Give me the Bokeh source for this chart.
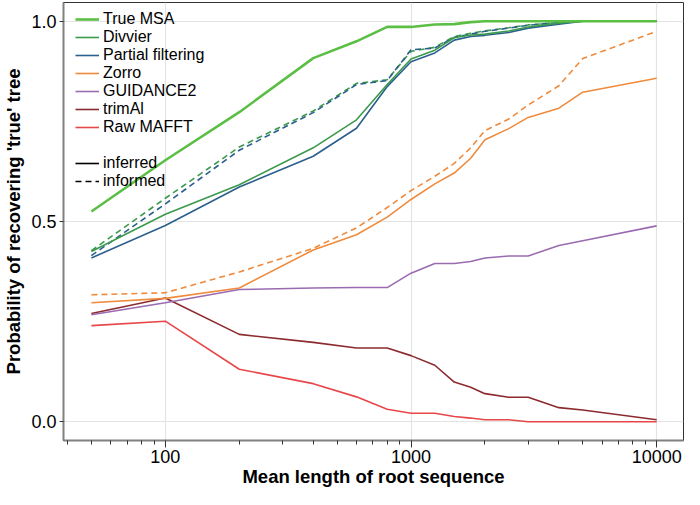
from bokeh.plotting import figure
from bokeh.models import Range1d, FixedTicker, PrintfTickFormatter, Legend, LegendItem
from bokeh.embed import file_html
from bokeh.resources import INLINE

# ---- data ----
lengths = [50, 100, 200, 400, 600, 800, 1000, 1250, 1500, 1750, 2000, 2500, 3000, 4000, 5000, 10000]

true_msa = [0.525, 0.653, 0.773, 0.908, 0.950, 0.986, 0.986, 0.992, 0.993, 0.998, 1.0, 1.0, 1.0, 1.0, 1.0, 1.0]
divvier_inferred = [0.425, 0.518, 0.592, 0.684, 0.754, 0.842, 0.906, 0.928, 0.959, 0.966, 0.968, 0.976, 0.986, 0.995, 1.0, 1.0]
divvier_informed = [0.427, 0.558, 0.686, 0.776, 0.845, 0.854, 0.925, 0.935, 0.962, 0.970, 0.976, 0.984, 0.991, 0.997, 1.0, 1.0]
partial_inferred = [0.409, 0.490, 0.586, 0.663, 0.733, 0.837, 0.899, 0.921, 0.953, 0.962, 0.965, 0.972, 0.983, 0.993, 1.0, 1.0]
partial_informed = [0.415, 0.544, 0.678, 0.772, 0.842, 0.852, 0.929, 0.933, 0.960, 0.968, 0.975, 0.983, 0.990, 0.997, 1.0, 1.0]
zorro_inferred = [0.297, 0.308, 0.334, 0.429, 0.467, 0.511, 0.555, 0.594, 0.621, 0.658, 0.704, 0.732, 0.760, 0.783, 0.823, 0.858]
zorro_informed = [0.317, 0.322, 0.374, 0.433, 0.484, 0.535, 0.577, 0.613, 0.645, 0.684, 0.727, 0.756, 0.791, 0.839, 0.907, 0.975]
guidance2 = [0.267, 0.297, 0.330, 0.334, 0.335, 0.335, 0.371, 0.395, 0.395, 0.400, 0.409, 0.414, 0.414, 0.440, 0.452, 0.489]
trimal = [0.270, 0.309, 0.218, 0.198, 0.184, 0.184, 0.165, 0.141, 0.099, 0.086, 0.070, 0.061, 0.061, 0.035, 0.029, 0.005]
raw_mafft = [0.240, 0.251, 0.131, 0.095, 0.062, 0.031, 0.021, 0.021, 0.013, 0.009, 0.005, 0.005, 0.0, 0.0, 0.0, 0.0]

method_names = ["True MSA", "Divvier", "Partial filtering", "Zorro", "GUIDANCE2", "trimAl", "Raw MAFFT"]
method_colors = ["#5cbf45", "#3b9a4c", "#2b5f8e", "#ef8b3d", "#9a6bb1", "#8c2b2f", "#e8474a"]
x_major = [100, 1000, 10000]
x_minor = [40, 50, 60, 70, 80, 90, 200, 300, 400, 500, 600, 700, 800, 900,
           2000, 3000, 4000, 5000, 6000, 7000, 8000, 9000]
y_major = [0.0, 0.5, 1.0]

FONT = "Liberation Sans"
FRAME_W = 620
FRAME_H = 438

p = figure(frame_width=FRAME_W, frame_height=FRAME_H, x_axis_type="log",
           x_range=Range1d(38.5, 12860), y_range=Range1d(-0.047, 1.047),
           output_backend="svg", toolbar_location=None,
           min_border_left=58, min_border_right=4, min_border_top=2, min_border_bottom=46)

p.background_fill_color = "white"
p.outline_line_color = "#333333"
p.outline_line_width = 1

# grid
p.xgrid.ticker = FixedTicker(ticks=x_major)
p.ygrid.ticker = FixedTicker(ticks=y_major)
for g in (p.xgrid, p.ygrid):
    g.grid_line_color = "#e3e3e3"
    g.grid_line_width = 1.2

# axes
p.xaxis.ticker = FixedTicker(ticks=x_major, minor_ticks=x_minor)
p.xaxis.formatter = PrintfTickFormatter(format="%d")
p.yaxis.ticker = FixedTicker(ticks=y_major)
p.yaxis.formatter = PrintfTickFormatter(format="%.1f")
p.xaxis.axis_label = "Mean length of root sequence"
p.yaxis.axis_label = "Probability of recovering 'true' tree"
for ax in (p.xaxis, p.yaxis):
    ax.axis_line_color = "#808080"
    ax.axis_line_width = 2
    ax.major_tick_line_color = "#333333"
    ax.minor_tick_line_color = "#333333"
    ax.major_tick_in = 0
    ax.minor_tick_in = 0
    ax.major_label_text_font = FONT
    ax.major_label_text_font_size = "18px"
    ax.major_label_text_color = "black"
    ax.axis_label_text_font = FONT
    ax.axis_label_text_font_size = "18.5px"
    ax.axis_label_text_font_style = "bold"
    ax.axis_label_text_color = "black"
p.xaxis.major_tick_out = 7
p.xaxis.minor_tick_out = 4
p.yaxis.major_tick_out = 4
p.yaxis.minor_tick_line_color = None
p.xaxis.major_label_standoff = 2
p.xaxis.axis_label_standoff = 0
p.yaxis.major_label_standoff = 3
p.yaxis.axis_label_standoff = 4

# informed (dashed)
dash = "6 4"
p.line(lengths, divvier_informed, color=method_colors[1], line_width=1.6, line_dash=dash)
p.line(lengths, partial_informed, color=method_colors[2], line_width=1.6, line_dash=dash)
p.line(lengths, zorro_informed, color=method_colors[3], line_width=1.6, line_dash=dash)

# inferred (solid)
r_mafft = p.line(lengths, raw_mafft, color=method_colors[6], line_width=1.6)
r_trimal = p.line(lengths, trimal, color=method_colors[5], line_width=1.6)
r_guid = p.line(lengths, guidance2, color=method_colors[4], line_width=1.6)
r_zorro = p.line(lengths, zorro_inferred, color=method_colors[3], line_width=1.6)
r_part = p.line(lengths, partial_inferred, color=method_colors[2], line_width=1.6)
r_divv = p.line(lengths, divvier_inferred, color=method_colors[1], line_width=1.6)
r_true = p.line(lengths, true_msa, color=method_colors[0], line_width=2.6)

# legend-only renderers (no visible data: all y values are NaN)
nan_y = [float("nan")] * len(lengths)
r_inferred = p.line(lengths, nan_y, color="black", line_width=1.6)
r_informed = p.line(lengths, nan_y, color="black", line_width=1.6, line_dash=dash)

method_renderers = [r_true, r_divv, r_part, r_zorro, r_guid, r_trimal, r_mafft]
legend_items = [LegendItem(label=n, renderers=[r]) for n, r in zip(method_names, method_renderers)]

ROW = 18


def style_legend(lg):
    lg.background_fill_alpha = 0
    lg.border_line_alpha = 0
    lg.padding = 0
    lg.spacing = 0
    lg.margin = 0
    lg.label_height = 16
    lg.glyph_height = 16
    lg.glyph_width = 24
    lg.label_standoff = 4
    lg.label_text_font = FONT
    lg.label_text_font_size = "16px"
    lg.label_text_line_height = 1.0
    lg.label_text_color = "black"


leg1_top = 8
leg2_top = 152
leg1 = Legend(items=legend_items, location=(12, FRAME_H - leg1_top - 7 * ROW))
style_legend(leg1)
leg2 = Legend(items=[LegendItem(label="inferred", renderers=[r_inferred]),
                     LegendItem(label="informed", renderers=[r_informed])],
              location=(12, FRAME_H - leg2_top - 2 * ROW))
style_legend(leg2)
p.add_layout(leg1, "center")
p.add_layout(leg2, "center")

open("out.html", "w").write(file_html(p, INLINE))
